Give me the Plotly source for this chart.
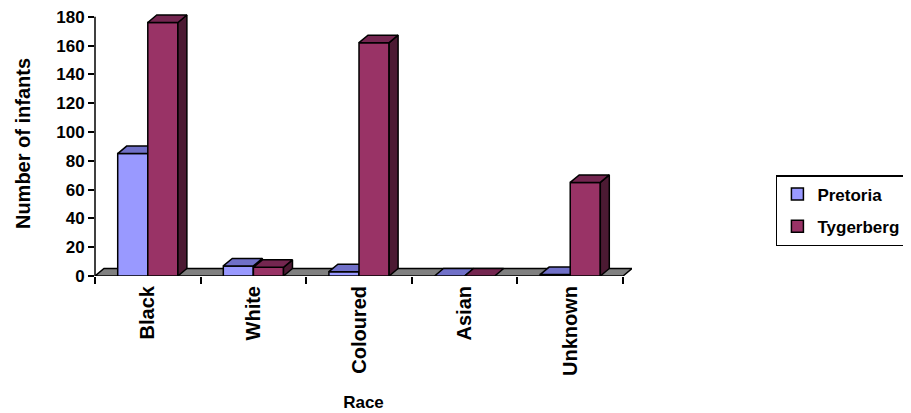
import plotly.graph_objects as go

# ---- data ----
categories = ["Black", "White", "Coloured", "Asian", "Unknown"]
pretoria = [85, 7, 3, 0, 1]
tygerberg = [176, 6, 162, 0, 65]
y_ticks = [0, 20, 40, 60, 80, 100, 120, 140, 160, 180]

# ---- styling / geometry ----
FONT = "Arial, Liberation Sans, sans-serif"
BAR_W = 0.285
DX = 0.085   # depth offset in x (category units)
DY = 5.2     # depth offset in y (value units)
series = [
    dict(name="Pretoria", vals=pretoria, offset=-BAR_W,
         front="#9999FF", top="#7070C8", side="#4D4D99"),
    dict(name="Tygerberg", vals=tygerberg, offset=0.0,
         front="#993366", top="#742650", side="#4C1A33"),
]
xpos = list(range(len(categories)))
n = len(categories)

fig = go.Figure()

# floor
fx = [-0.5, n - 0.5, n - 0.5 + DX, -0.5 + DX, -0.5]
fy = [0, 0, DY, DY, 0]
fig.add_trace(go.Scatter(x=fx, y=fy, mode="lines", fill="toself",
                         fillcolor="#808080", line=dict(color="black", width=1.5),
                         showlegend=False, hoverinfo="skip", zorder=0))

z = 1
for s in series:
    # front faces
    fig.add_trace(go.Bar(x=xpos, y=s["vals"], width=BAR_W, offset=s["offset"],
                         name="<b>" + s["name"] + "</b>", legendgroup=s["name"],
                         marker=dict(color=s["front"], line=dict(color="black", width=1.5)),
                         zorder=z))
    z += 1
    tx, ty, sx, sy = [], [], [], []
    for i, v in zip(xpos, s["vals"]):
        xl = i + s["offset"]
        xr = xl + BAR_W
        tx += [xl, xr, xr + DX, xl + DX, xl, None]
        ty += [v, v, v + DY, v + DY, v, None]
        if v > 0:
            sx += [xr, xr + DX, xr + DX, xr, xr, None]
            sy += [0, DY, v + DY, v, 0, None]
    fig.add_trace(go.Scatter(x=sx, y=sy, mode="lines", fill="toself",
                             fillcolor=s["side"], line=dict(color="black", width=1.5),
                             showlegend=False, hoverinfo="skip", zorder=z))
    fig.add_trace(go.Scatter(x=tx, y=ty, mode="lines", fill="toself",
                             fillcolor=s["top"], line=dict(color="black", width=1.5),
                             showlegend=False, hoverinfo="skip", zorder=z))
    z += 1

fig.update_layout(
    width=903, height=405, autosize=False,
    margin=dict(l=87, r=279, t=3, b=137, autoexpand=False),
    paper_bgcolor="white", plot_bgcolor="white",
    barmode="overlay",
    font=dict(family=FONT, color="black"),
    showlegend=True,
    legend=dict(x=1.268, y=0.381, xanchor="left", yanchor="top",
                bordercolor="black", borderwidth=1.5, bgcolor="white",
                font=dict(family=FONT, size=17, color="black"),
                tracegroupgap=7, itemclick=False, itemwidth=30),
    xaxis=dict(range=[-0.5, n - 0.5 + DX], tickmode="array", tickvals=xpos,
               ticktext=["<b>" + c + "</b>" for c in categories], tickangle=-90,
               ticks="", showline=False, automargin=False,
               showgrid=False, zeroline=False, ticklabelstandoff=5,
               ticklabeloverflow="allow",
               tickfont=dict(family=FONT, size=20, color="black"),
               minor=dict(tickmode="array", tickvals=[i - 0.5 for i in range(n + 1)],
                          ticks="outside", ticklen=7, tickwidth=1.5, tickcolor="black",
                          showgrid=False),
               title=dict(text="<b>Race</b>", standoff=21,
                          font=dict(family=FONT, size=17, color="black"))),
    yaxis=dict(range=[0, 184], tickmode="array", tickvals=y_ticks,
               ticktext=["<b>%d</b>" % t for t in y_ticks],
               ticks="outside", ticklen=6, tickwidth=1.5, tickcolor="black",
               showline=False, showgrid=False, zeroline=False, automargin=False,
               ticklabeloverflow="allow",
               tickfont=dict(family=FONT, size=17, color="black"),
               title=dict(text="<b>Number of infants</b>", standoff=20,
                          font=dict(family=FONT, size=20, color="black"))),
    shapes=[dict(type="line", xref="paper", x0=0, x1=0, yref="y", y0=0, y1=180,
                 line=dict(color="black", width=1.5), layer="above")],
)

fig.write_html("out.html")
